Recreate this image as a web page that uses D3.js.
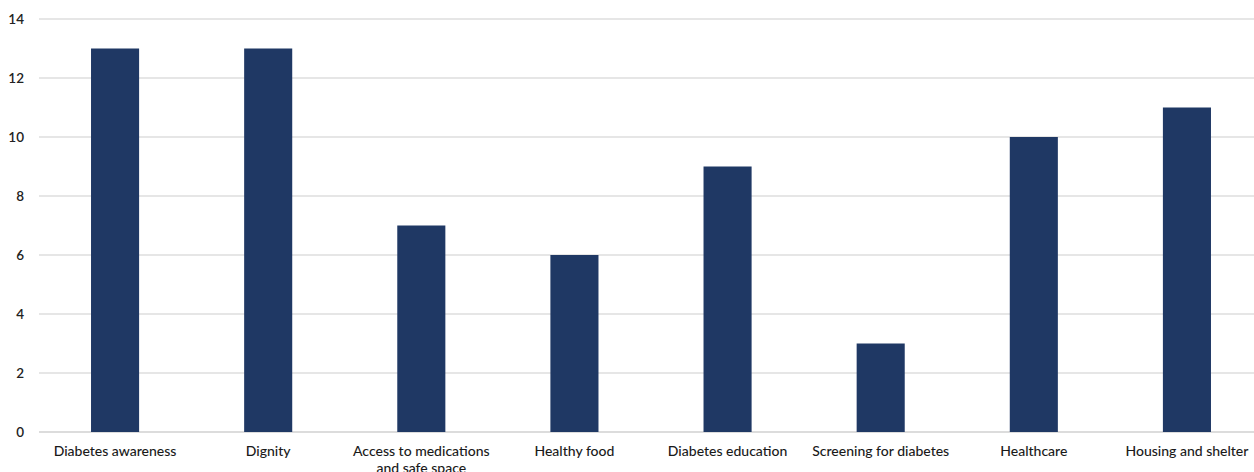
<!DOCTYPE html>
<html><head><meta charset="utf-8">
<script src="https://cdn.jsdelivr.net/npm/d3@7"></script>
<style>body{margin:0;background:#fff;} svg{display:block;}</style>
</head><body>
<svg id="c" width="1254" height="472"></svg>
<script>
const categories = [["Diabetes awareness"],["Dignity"],["Access to medications","and safe space"],["Healthy food"],["Diabetes education"],["Screening for diabetes"],["Healthcare"],["Housing and shelter"]];
const values = [13,13,7,6,9,3,10,11];
const yTicks = [0,2,4,6,8,10,12,14];

const svg = d3.select("#c");
const x0 = 38.5, x1 = 1263.5, yTop = 19, yBot = 432;
const x = d3.scaleBand().domain(d3.range(categories.length)).range([x0,x1]).paddingInner(0.686).paddingOuter(0.343);
const y = d3.scaleLinear().domain([0,14]).range([yBot,yTop]);

const font = "Lato, 'Open Sans', sans-serif";
svg.append("g").selectAll("line").data(yTicks).join("line")
  .attr("x1",39).attr("x2",1254).attr("y1",d=>y(d)).attr("y2",d=>y(d))
  .attr("stroke",d=>d===0?"#d0d0d0":"#dedede").attr("stroke-width",1.5);

svg.append("g").selectAll("text").data(yTicks).join("text")
  .attr("x",24).attr("y",d=>y(d)+4.5).attr("text-anchor","end")
  .attr("font-family",font).attr("font-size",13.5).attr("font-weight",600).attr("fill","#222")
  .text(d=>d);

svg.append("g").selectAll("rect").data(values).join("rect")
  .attr("x",(d,i)=>x(i)).attr("width",x.bandwidth())
  .attr("y",d=>y(d)).attr("height",d=>yBot-y(d))
  .attr("fill","#1f3864");

const lab = svg.append("g").selectAll("text").data(categories).join("text")
  .attr("x",(d,i)=>x(i)+x.bandwidth()/2).attr("y",456).attr("text-anchor","middle")
  .attr("font-family",font).attr("font-size",14).attr("font-weight",500).attr("fill","#1a1a1a");
lab.selectAll("tspan").data(d=>d).join("tspan")
  .attr("x",function(){return this.parentNode.getAttribute("x");})
  .attr("dy",(d,i)=>i===0?0:17).text(d=>d);
</script>
</body></html>
